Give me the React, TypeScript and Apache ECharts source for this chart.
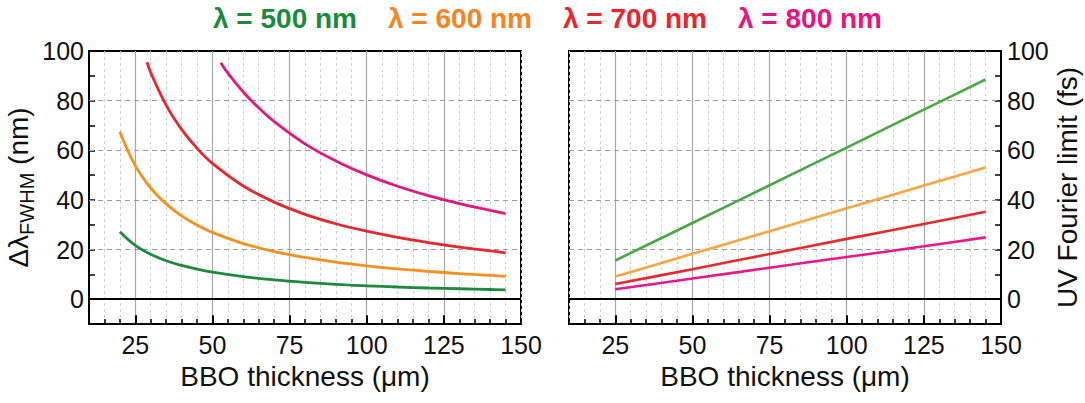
import React, { useEffect, useRef } from 'react';
import * as echarts from 'echarts';

const FONT = '"Liberation Sans", Arial, Helvetica, sans-serif';

const names = ['λ = 500 nm', 'λ = 600 nm', 'λ = 700 nm', 'λ = 800 nm'];
const legendColors = ['#1a8a3c', '#f7841f', '#e8262b', '#e6157f'];
const leftColors = ['#1e8a3c', '#f7901e', '#e8262b', '#e5177e'];
const rightColors = ['#47a845', '#f9a640', '#ea2a2a', '#e8178a'];

const xTickLabels = [25, 50, 75, 100, 125, 150];
const yTickLabels = [0, 20, 40, 60, 80, 100];
const hGrid = [20, 40, 60, 80];
const vGridMajor = [25, 50, 75, 100, 125];

// Left panel: bandwidth (nm) vs BBO thickness (µm)
const bw500X = [20, 25, 30, 35, 40, 45, 50, 60, 70, 80, 90, 100, 110, 120, 130, 140, 145];
const bw500Y = [27.2, 21.7, 18.1, 15.5, 13.6, 12.1, 10.9, 9.1, 7.8, 6.8, 6.0, 5.4, 4.9, 4.5, 4.2, 3.9, 3.75];
const bw600X = [20, 25, 30, 35, 40, 45, 50, 60, 70, 80, 90, 100, 110, 120, 130, 140, 145];
const bw600Y = [67.5, 53.8, 44.8, 38.4, 33.6, 29.9, 26.9, 22.4, 19.2, 16.8, 14.9, 13.4, 12.2, 11.2, 10.3, 9.6, 9.2];
const bw700X = [28.8, 30, 35, 40, 45, 50, 60, 70, 80, 90, 100, 110, 120, 130, 140, 145];
const bw700Y = [95.5, 91.3, 78.2, 68.4, 60.8, 54.7, 45.6, 39.1, 34.2, 30.4, 27.4, 24.9, 22.8, 21.0, 19.5, 18.7];
const bw800X = [52.7, 55, 60, 65, 70, 80, 90, 100, 110, 120, 130, 140, 145];
const bw800Y = [95.3, 91.1, 83.5, 77.1, 71.6, 62.6, 55.7, 50.1, 45.5, 41.7, 38.5, 35.8, 34.5];

// Right panel: UV Fourier limit (fs) vs BBO thickness (µm)
const fl500X = [25, 50, 75, 100, 125, 145];
const fl500Y = [15.6, 30.7, 45.9, 61.1, 76.4, 88.5];
const fl600X = [25, 50, 75, 100, 125, 145];
const fl600Y = [9.1, 18.3, 27.4, 36.6, 45.8, 53.1];
const fl700X = [25, 50, 75, 100, 125, 145];
const fl700Y = [6.1, 12.1, 18.2, 24.3, 30.3, 35.2];
const fl800X = [25, 50, 75, 100, 125, 145];
const fl800Y = [4.0, 8.3, 12.7, 17.0, 21.3, 24.9];

const leftData = [
  [bw500X, bw500Y],
  [bw600X, bw600Y],
  [bw700X, bw700Y],
  [bw800X, bw800Y],
];
const rightData = [
  [fl500X, fl500Y],
  [fl600X, fl600Y],
  [fl700X, fl700Y],
  [fl800X, fl800Y],
];

const pairs = (xs: number[], ys: number[]) => xs.map((x, i) => [x, ys[i]]);

function makeXAxis(gridIndex: number) {
  return {
    type: 'value',
    gridIndex,
    min: 10,
    max: 150,
    interval: 5,
    name: 'BBO thickness (μm)',
    nameLocation: 'middle',
    nameGap: 38,
    nameTextStyle: { fontFamily: FONT, fontSize: 28, color: '#111' },
    axisLine: { show: true, onZero: false, lineStyle: { color: '#000', width: 2 } },
    axisTick: { show: true, inside: true, length: 5, lineStyle: { color: '#000', width: 1.5 } },
    axisLabel: {
      margin: 8,
      fontFamily: FONT,
      fontSize: 25,
      color: '#111',
      formatter: (v: number) => (xTickLabels.includes(v) ? String(v) : ''),
    },
    splitLine: { show: true, lineStyle: { color: '#cfcfcf', type: [3, 3], width: 1 } },
  };
}

function makeYAxis(gridIndex: number, position: 'left' | 'right', name: string, nameTextStyle: any, nameGap: number) {
  return {
    type: 'value',
    gridIndex,
    position,
    min: -10,
    max: 100,
    interval: 10,
    name,
    nameLocation: 'middle',
    nameRotate: 90,
    nameGap,
    nameTextStyle,
    axisLine: { show: true, onZero: false, lineStyle: { color: '#000', width: 2 } },
    axisTick: { show: true, inside: true, length: 6, lineStyle: { color: '#000', width: 1.5 } },
    axisLabel: {
      margin: position === 'left' ? 5 : 6,
      fontFamily: FONT,
      fontSize: 25,
      color: '#111',
      formatter: (v: number) => (yTickLabels.includes(v) ? String(v) : ''),
    },
    splitLine: { show: false },
  };
}

function gridLinesSeries(xAxisIndex: number, yAxisIndex: number) {
  return {
    type: 'line',
    xAxisIndex,
    yAxisIndex,
    data: [],
    silent: true,
    markLine: {
      silent: true,
      symbol: 'none',
      z: 1,
      animation: false,
      label: { show: false },
      data: [
        ...hGrid.map((v) => ({ yAxis: v, lineStyle: { color: '#9a9a9a', type: [5, 4], width: 1 } })),
        ...vGridMajor.map((v) => ({ xAxis: v, lineStyle: { color: '#a8a8a8', type: 'solid', width: 1.2 } })),
        ...vGridMajor.map((v) => [
          { coord: [v, -10], lineStyle: { color: '#000', type: 'solid', width: 2 } },
          { coord: [v, -6.5] },
        ]),
        { yAxis: 0, lineStyle: { color: '#000', type: 'solid', width: 2 } },
      ],
    },
  };
}

export default function App() {
  const ref = useRef<HTMLDivElement>(null);
  useEffect(() => {
    if (!ref.current) return;
    const chart = echarts.init(ref.current, undefined, { renderer: 'svg' });

    const series: any[] = [gridLinesSeries(0, 0), gridLinesSeries(1, 1)];
    leftData.forEach(([xs, ys], i) => {
      series.push({
        name: names[i],
        type: 'line',
        xAxisIndex: 0,
        yAxisIndex: 0,
        smooth: 0.4,
        showSymbol: false,
        symbol: 'none',
        z: 3,
        lineStyle: { color: leftColors[i], width: 2.8 },
        itemStyle: { color: leftColors[i] },
        data: pairs(xs, ys),
      });
    });
    rightData.forEach(([xs, ys], i) => {
      series.push({
        name: names[i],
        type: 'line',
        xAxisIndex: 1,
        yAxisIndex: 1,
        smooth: 0.3,
        showSymbol: false,
        symbol: 'none',
        z: 3,
        lineStyle: { color: rightColors[i], width: 2.6 },
        itemStyle: { color: rightColors[i] },
        data: pairs(xs, ys),
      });
    });

    const legendTexts = names.map((n, i) => ({
      type: 'text',
      x: 213 + i * 175,
      y: 18,
      style: {
        text: n,
        fill: legendColors[i],
        font: `bold 28px ${FONT}`,
        textAlign: 'left',
        textVerticalAlign: 'middle',
      },
    }));

    chart.setOption({
      animation: false,
      backgroundColor: '#fff',
      graphic: legendTexts,
      grid: [
        { left: 89, top: 51, width: 432, height: 273, show: true, borderColor: '#000', borderWidth: 2, backgroundColor: 'transparent' },
        { left: 569, top: 51, width: 432, height: 273, show: true, borderColor: '#000', borderWidth: 2, backgroundColor: 'transparent' },
      ],
      xAxis: [makeXAxis(0), makeXAxis(1)],
      yAxis: [
        makeYAxis(
          0,
          'left',
          '{a|Δλ}{b|FWHM}{a| (nm)}',
          {
            color: '#111',
            fontFamily: FONT,
            fontSize: 28,
            rich: {
              a: { fontFamily: FONT, fontSize: 28, lineHeight: 37, color: '#111' },
              b: { fontFamily: FONT, fontSize: 20, lineHeight: 20, verticalAlign: 'bottom', color: '#111' },
            },
          },
          52
        ),
        makeYAxis(1, 'right', 'UV Fourier limit (fs)', { color: '#111', fontFamily: FONT, fontSize: 28 }, 52),
      ],
      series,
    });

    return () => chart.dispose();
  }, []);

  return (
    <div
      ref={ref}
      style={{ position: 'fixed', left: 0, top: 0, width: 1085, height: 403, background: '#fff' }}
    />
  );
}
